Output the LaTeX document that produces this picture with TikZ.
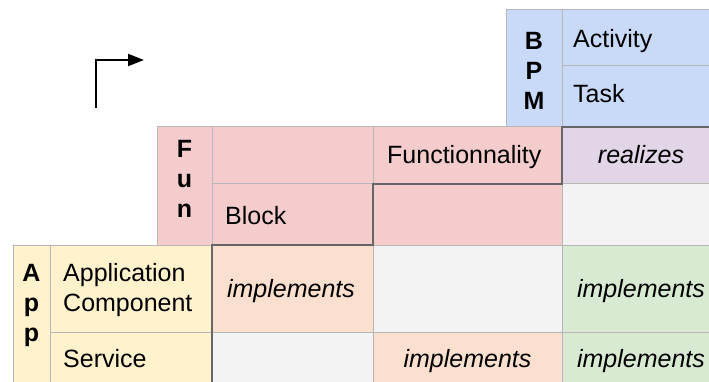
\documentclass[tikz,border=0pt]{standalone}
\usepackage{fontspec}
\setmainfont{Liberation Sans}
\usetikzlibrary{arrows.meta}
\definecolor{bpmblue}{HTML}{C9DAF8}
\definecolor{funpink}{HTML}{F4CCCC}
\definecolor{realz}{HTML}{E1D5E7}
\definecolor{cellgray}{HTML}{F3F3F3}
\definecolor{appyellow}{HTML}{FFF2CC}
\definecolor{peach}{HTML}{FBE0CF}
\definecolor{implgreen}{HTML}{D9EAD3}
\definecolor{gridline}{HTML}{B7B7B7}
\definecolor{thickline}{HTML}{666666}
\begin{document}
\begin{tikzpicture}[x=1pt,y=-1pt,
  cell/.style={draw=gridline, line width=1pt},
  txt/.style={inner sep=0pt, font=\fontsize{25}{30}\selectfont},
  lbl/.style={txt, anchor=base west},
  ital/.style={txt, anchor=base, font=\fontsize{25}{30}\selectfont\itshape},
  stack/.style={txt, anchor=north, align=center, font=\fontsize{25}{30}\selectfont\bfseries},
  border/.style={draw=thickline, line width=2.2pt},
  flow/.style={draw=black, line width=2pt, -{Triangle[length=16pt,width=12pt]}}]
\useasboundingbox (0,0) rectangle (709,382);
\clip (0,0) rectangle (709,382);
% BPM block
\filldraw[cell, fill=bpmblue] (506,10) rectangle (562,127);
\filldraw[cell, fill=bpmblue] (562,10) rectangle (730,66);
\filldraw[cell, fill=bpmblue] (562,66) rectangle (730,127);
% Fun block
\filldraw[cell, fill=funpink] (157,127) rectangle (212,245);
\filldraw[cell, fill=funpink] (212,127) rectangle (373,184);
\filldraw[cell, fill=funpink] (373,127) rectangle (562,184);
\filldraw[cell, fill=realz] (562,127) rectangle (730,184);
\filldraw[cell, fill=funpink] (212,184) rectangle (373,245);
\filldraw[cell, fill=funpink] (373,184) rectangle (562,245);
\filldraw[cell, fill=cellgray] (562,184) rectangle (730,245);
% App block
\filldraw[cell, fill=appyellow] (13,245) rectangle (50,400);
\filldraw[cell, fill=appyellow] (50,245) rectangle (212,332);
\filldraw[cell, fill=peach] (212,245) rectangle (373,332);
\filldraw[cell, fill=cellgray] (373,245) rectangle (562,332);
\filldraw[cell, fill=implgreen] (562,245) rectangle (730,332);
\filldraw[cell, fill=appyellow] (50,332) rectangle (212,400);
\filldraw[cell, fill=cellgray] (212,332) rectangle (373,400);
\filldraw[cell, fill=peach] (373,332) rectangle (562,400);
\filldraw[cell, fill=implgreen] (562,332) rectangle (730,400);
% thick staircase
\draw[border] (212,400) -- (212,245) -- (373,245) -- (373,184) -- (562,184) -- (562,127) -- (730,127);
% texts
\node[stack] (bpm) at (534,32) {B\\P\\M};
\node[lbl] (activity) at (573,48) {Activity};
\node[lbl] (task) at (573,103) {Task};
\node[stack] (fun) at (184.5,140) {F\\u\\n};
\node[lbl] (functionnality) at (387,164) {Functionnality};
\node[ital] (realizes) at (641,164) {realizes};
\node[lbl] (block) at (225,224) {Block};
\node[stack] (app) at (31.5,264) {A\\p\\p};
\node[txt, anchor=north west, align=left] (appcomp) at (63,263) {Application\\Component};
\node[ital] (impl1) at (291,297) {implements};
\node[ital] (impl2) at (641,297) {implements};
\node[lbl] (service) at (63,367) {Service};
\node[ital] (impl3) at (467.5,367) {implements};
\node[ital] (impl4) at (641,367) {implements};
% arrow
\coordinate (arrowstart) at (96,108);
\coordinate (arrowend) at (144,60);
\draw[flow] (arrowstart) |- (arrowend);
\end{tikzpicture}
\end{document}
